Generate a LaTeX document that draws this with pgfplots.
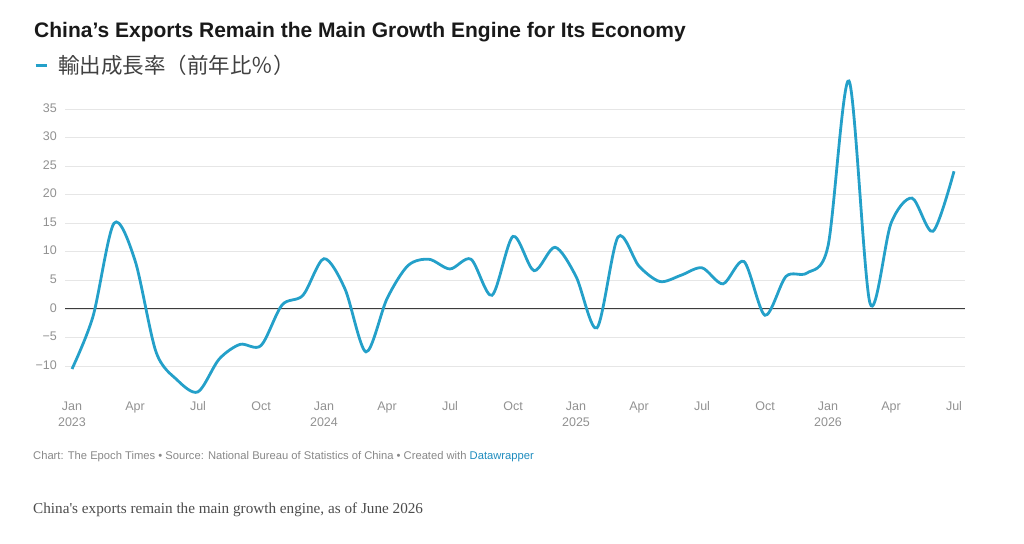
\documentclass[border=0pt]{standalone}
\usepackage{pgfplots}
\pgfplotsset{compat=1.18}
\usepackage{pgfplotstable}
\usepackage{fontspec}
\setmainfont{Liberation Sans}
\newfontfamily\cjkfont{Noto Sans CJK JP}
\newfontfamily\seriffont{Liberation Serif}
\definecolor{linecol}{RGB}{36,160,201}
\definecolor{tickgray}{RGB}{145,145,145}
\definecolor{gridgray}{RGB}{230,230,230}
\definecolor{zerocol}{RGB}{60,60,60}
\definecolor{foot}{RGB}{136,136,136}
\definecolor{dwblue}{RGB}{30,140,190}

\pgfplotstableread{
x y
0 -10.5
1 -1.3
2 15.0
3 8.5
4 -7.5
5 -12.4
6 -14.5
7 -8.8
8 -6.2
9 -6.4
10 0.7
11 2.4
12 8.8
13 3.5
14 -7.5
15 1.8
16 7.6
17 8.7
18 7.0
19 8.7
20 2.4
21 12.7
22 6.7
23 10.8
24 5.7
25 -3.3
26 12.6
27 7.5
28 4.8
29 5.9
30 7.2
31 4.4
32 8.3
33 -1.1
34 5.7
35 6.3
36 11.0
37 39.9
38 1.0
39 15.0
40 19.4
41 13.6
42 24.1
}\exports

\begin{document}
\begin{tikzpicture}[x=1pt,y=1pt]
\path (0,0) rectangle (1024,543);
\node[anchor=base west, inner sep=0pt, text=black!90] at (34,505)
  {\fontsize{21}{24}\selectfont\bfseries China's Exports Remain the Main Growth Engine for Its Economy};
\begin{axis}[
  at={(65pt,148.3pt)}, anchor=south west,
  scale only axis, width=900pt, height=314.3pt,
  xmin=-0.3333, xmax=42.524, ymin=-15, ymax=40,
  axis line style={draw=none},
  major tick length=0pt,
  ytick={-10,-5,0,5,10,15,20,25,30,35},
  yticklabels={−10,−5,0,5,10,15,20,25,30,35},
  ymajorgrids, grid style={gridgray, line width=0.8pt},
  extra y ticks={0}, extra y tick labels={},
  extra y tick style={grid style={zerocol, line width=1pt}},
  xtick={0,3,...,42},
  xticklabels={{Jan\\2023},Apr,Jul,Oct,{Jan\\2024},Apr,Jul,Oct,{Jan\\2025},Apr,Jul,Oct,{Jan\\2026},Apr,Jul},
  ticklabel style={text=tickgray, font=\fontsize{12.5}{15.5}\selectfont},
  typeset ticklabels with strut,
  xticklabel style={align=center, anchor=north, inner sep=0pt},
  yticklabel style={anchor=east, inner sep=0pt},
  xticklabel shift=5pt, yticklabel shift=8pt,
  legend style={at={(-0.0344,1.049)}, anchor=west, draw=none, fill=none,
    inner sep=0pt, nodes={inner sep=0pt, anchor=west, text=black!75,
    font=\cjkfont\fontsize{21.5}{24}\selectfont}},
  legend image code/.code={\draw[linecol, line width=3pt] (0pt,0pt) -- (11pt,0pt); \path (21pt,0pt);},
  clip=false,
]
\addplot[linecol, line width=2.8pt, smooth, no markers] table[x=x, y=y] {\exports};
\addlegendentry{輸出成長率（前年比％）}
\end{axis}
\node[anchor=base west, inner sep=0pt, text=foot] at (33,83)
  {\fontsize{11.2}{13}\selectfont Chart: The Epoch Times • Source: National Bureau of Statistics of China • Created with \textcolor{dwblue}{Datawrapper}};
\node[anchor=base west, inner sep=0pt, text=black!70] at (33,30)
  {\seriffont\fontsize{15.2}{17}\selectfont China's exports remain the main growth engine, as of June 2026};
\end{tikzpicture}
\end{document}
